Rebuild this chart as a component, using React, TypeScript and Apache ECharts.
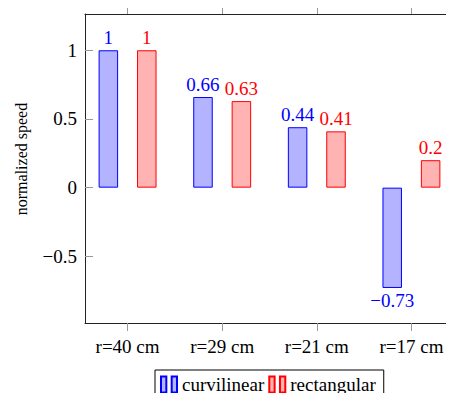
import React, { useEffect, useRef } from "react";
import * as echarts from "echarts";

const categories = ["r=40 cm", "r=29 cm", "r=21 cm", "r=17 cm"];
const curvilinear = [1, 0.66, 0.44, -0.73];
const rectangular = [1, 0.63, 0.41, 0.2];
const yTicks = [-0.5, 0, 0.5, 1];
const seriesNames = ["curvilinear", "rectangular"];

const SERIF = "'Liberation Serif', 'DejaVu Serif', serif";
const fmtNum = (v: number) => String(v).replace("-", "\u2212");
const legendIcon = "path://M0.5,0.5h5v15h-5z M10.5,0.5h5v15h-5z";

export default function App() {
  const ref = useRef<HTMLDivElement>(null);
  useEffect(() => {
    if (!ref.current) return;
    const chart = echarts.init(ref.current, undefined, { renderer: "svg" });
    const catIdx = categories.map((_, i) => i);
    const mkSeries = (name: string, vals: number[], stroke: string, fill: string) => ({
      type: "bar",
      name,
      xAxisIndex: 0,
      yAxisIndex: 0,
      barWidth: 19.5,
      barGap: "97%",
      itemStyle: { color: fill, borderColor: stroke, borderWidth: 1 },
      data: vals.map((v, i) => ({
        value: [catIdx[i], v],
        label: { position: v < 0 ? "bottom" : "top" },
      })),
      label: {
        show: true,
        distance: 3,
        color: stroke,
        fontFamily: SERIF,
        fontSize: 19,
        formatter: (p: any) => fmtNum(p.value[1]),
      },
    });
    const axisLineStyle = { color: "#222", width: 1 };
    const tickStyle = { color: "#999", width: 1 };
    chart.setOption({
      animation: false,
      grid: { left: 85, right: -2.8, top: 14, bottom: 78 },
      legend: {
        left: 155,
        top: 370,
        data: seriesNames,
        icon: legendIcon,
        itemWidth: 16,
        itemHeight: 16,
        itemGap: 4,
        padding: [5, 8, 7, 5],
        borderColor: "#000",
        borderWidth: 1,
        backgroundColor: "#fff",
        textStyle: { fontFamily: SERIF, fontSize: 19, color: "#000" },
      },
      xAxis: [
        {
          type: "value",
          position: "bottom",
          min: -0.45,
          max: 3.45,
          splitLine: { show: false },
          axisLine: { show: true, onZero: false, lineStyle: axisLineStyle },
          axisTick: { show: true, inside: false, length: 8, lineStyle: tickStyle, customValues: catIdx },
          axisLabel: {
            customValues: catIdx,
            margin: 14,
            fontFamily: SERIF,
            fontSize: 19,
            color: "#000",
            formatter: (v: number) => categories[Math.round(v)] ?? "",
          },
        },
        {
          type: "value",
          position: "top",
          min: -0.45,
          max: 3.45,
          splitLine: { show: false },
          axisLine: { show: true, onZero: false, lineStyle: axisLineStyle },
          axisTick: { show: true, inside: false, length: 8, lineStyle: tickStyle, customValues: catIdx },
          axisLabel: { show: false },
        },
      ],
      yAxis: [
        {
          type: "value",
          position: "left",
          min: -0.985,
          max: 1.264,
          name: "normalized speed",
          nameLocation: "middle",
          nameRotate: 90,
          nameGap: 56,
          nameTextStyle: { fontFamily: SERIF, fontSize: 16, color: "#000", padding: [0, 0, 0, 19] },
          splitLine: { show: false },
          axisLine: { show: true, onZero: false, lineStyle: axisLineStyle },
          axisTick: { show: true, inside: true, length: 8, lineStyle: tickStyle, customValues: yTicks },
          axisLabel: {
            customValues: yTicks,
            margin: 8,
            fontFamily: SERIF,
            fontSize: 19,
            color: "#000",
            formatter: (v: number) => fmtNum(v),
          },
        },
        {
          type: "value",
          position: "right",
          min: -0.985,
          max: 1.264,
          splitLine: { show: false },
          axisLine: { show: true, onZero: false, lineStyle: axisLineStyle },
          axisTick: { show: true, inside: true, length: 8, lineStyle: tickStyle, customValues: yTicks },
          axisLabel: { show: false },
        },
      ],
      series: [
        mkSeries(seriesNames[0], curvilinear, "#0000ff", "#b3b3ff"),
        mkSeries(seriesNames[1], rectangular, "#ff0000", "#ffb3b3"),
      ],
    });
    return () => chart.dispose();
  }, []);
  return <div ref={ref} style={{ width: 454, height: 401, margin: -8 }} />;
}
